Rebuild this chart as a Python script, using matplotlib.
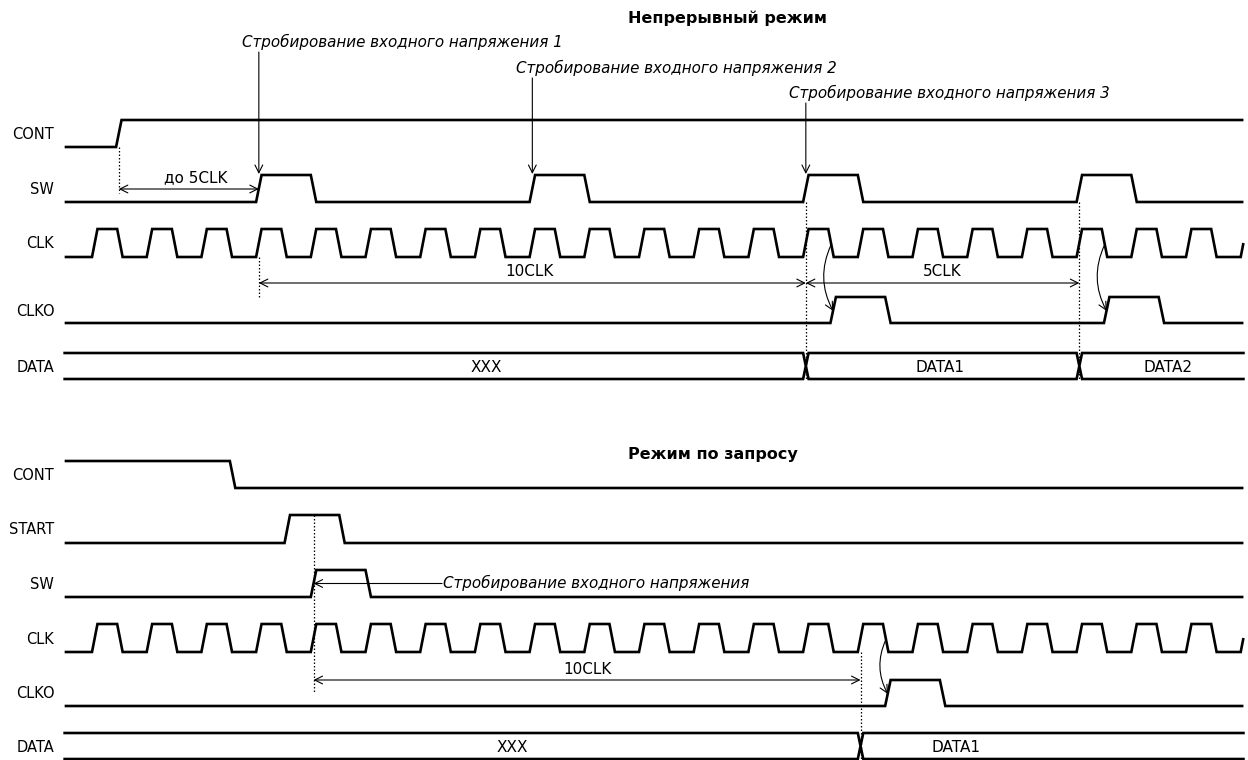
import matplotlib
matplotlib.use("Agg")
import numpy as np
import matplotlib.pyplot as plt
from matplotlib.patches import FancyArrowPatch

# ---------------- data (time in CLK periods, t=0 at first CLK rising edge) ----
T_BEGIN = -0.5
T_END = 21.05

CLK_RISES = [0, 1, 2, 3, 4, 5, 6, 7, 8, 9, 10, 11, 12, 13, 14, 15, 16, 17,
             18, 19, 20, 21]
CLK_HIGH = 0.46

TOP_TITLE = "Непрерывный режим"
TOP_SIGNALS = ["CONT", "SW", "CLK", "CLKO", "DATA"]
TOP_CONT_INIT = 0
TOP_CONT_EDGES = [0.44]
TOP_SW_EDGES = [3, 4, 8, 9, 13, 14, 18, 19]
TOP_CLKO_EDGES = [13.5, 14.5, 18.5, 19.5]
TOP_DATA_EDGES = [13, 18]
TOP_DATA_LABELS = ["XXX", "DATA1", "DATA2"]
TOP_DATA_LABEL_T = [7.2, 15.5, 19.67]
TOP_STROBES = [3, 8, 13]
TOP_STROBE_LABELS = ["Стробирование входного напряжения 1",
                     "Стробирование входного напряжения 2",
                     "Стробирование входного напряжения 3"]
TOP_DIMS = [("до 5CLK", 0.44, 3), ("10CLK", 3, 13), ("5CLK", 13, 18)]

BOT_TITLE = "Режим по запросу"
BOT_SIGNALS = ["CONT", "START", "SW", "CLK", "CLKO", "DATA"]
BOT_CONT_INIT = 1
BOT_CONT_EDGES = [2.52]
BOT_START_EDGES = [3.52, 4.52]
BOT_SW_EDGES = [4, 5]
BOT_CLKO_EDGES = [14.5, 15.5]
BOT_DATA_EDGES = [14]
BOT_DATA_LABELS = ["XXX", "DATA1"]
BOT_DATA_LABEL_T = [7.68, 15.8]
BOT_STROBE_LABEL = "Стробирование входного напряжения"
BOT_DIMS = [("10CLK", 4, 14)]

# ---------------- layout ----------------
PX0, PXS = 92.0, 54.7          # pixel of t=0, pixels per clock
SLOPE = 0.1
LW = 1.9
FONT = "DejaVu Sans"
FS_LABEL = 10.5
FS_TEXT = 11
FS_ITALIC = 10.9
FS_TITLE = 11.5
# rows: (high y, low y) in pixel rows
TOP_ROWS = {"CONT": (120, 147), "SW": (175, 202), "CLK": (229, 257),
            "CLKO": (297, 323), "DATA": (353, 379)}
BOT_ROWS = {"CONT": (461, 488), "START": (515, 543), "SW": (570, 597),
            "CLK": (624, 652), "CLKO": (680, 706), "DATA": (733, 759)}
TOP_DIM_Y = [189, 283, 283]
TOP_DIM_TEXT_DX = [0.13, -0.05, 0.0]

fig = plt.figure(figsize=(12.48, 7.6), dpi=100)
ax = fig.add_axes([0, 0, 1, 1])
ax.set_xlim(-PX0 / PXS, (1248 - PX0) / PXS)
ax.set_ylim(760, 0)
ax.axis("off")


def wave_xy(init, edges, row):
    hi, lo = row
    xs, ys = [T_BEGIN], [init]
    lev = init
    for e in edges:
        xs += [e, e + SLOPE]
        ys += [lev, 1 - lev]
        lev = 1 - lev
    xs.append(max(T_END, xs[-1]))
    ys.append(lev)
    xs = np.array(xs, float)
    ys = np.array(ys, float)
    keep = xs <= T_END
    xe = T_END
    ye = np.interp(xe, xs, ys)
    xs = np.append(xs[keep], xe)
    ys = np.append(ys[keep], ye)
    return xs, lo - ys * (lo - hi)


def draw_wave(init, edges, row):
    x, y = wave_xy(init, edges, row)
    ax.plot(x, y, color="black", lw=LW, solid_joinstyle="miter",
            solid_capstyle="butt")


def draw_bus(edges, labels, label_t, row):
    hi, lo = row
    mid = (hi + lo) / 2
    w = 0.05
    for level in (hi, lo):
        xs, ys = [T_BEGIN], [level]
        for e in edges:
            c = e + SLOPE / 2
            xs += [c - w, c, c + w]
            ys += [level, mid, level]
        xs.append(T_END)
        ys.append(level)
        ax.plot(xs, ys, color="black", lw=LW, solid_joinstyle="miter")
    for lab, t in zip(labels, label_t):
        ax.text(t, mid + 1, lab, ha="center", va="center", fontsize=FS_TEXT,
                family=FONT)


def dotted(t, y0, y1):
    ax.plot([t, t], [y0, y1], color="black", lw=0.9,
            linestyle=(0, (1.2, 1.6)))


def arrow(p0, p1, style="->", rad=0.0):
    ax.add_patch(FancyArrowPatch(p0, p1, arrowstyle=style, mutation_scale=14,
                                 lw=0.8, color="black", shrinkA=0, shrinkB=0,
                                 connectionstyle=f"arc3,rad={rad}"))


def labels(names, rows):
    for n in names:
        hi, lo = rows[n]
        ax.text(-0.69, (hi + lo) / 2 + 1, n, ha="right", va="center",
                fontsize=FS_LABEL, family=FONT)


clk_edges = []
for r in CLK_RISES:
    clk_edges += [r, r + CLK_HIGH]

# ---------------- top section ----------------
ax.text(9.8, 18, TOP_TITLE, ha="left", va="center", fontsize=FS_TITLE,
        fontweight="bold", family=FONT)
labels(TOP_SIGNALS, TOP_ROWS)
draw_wave(TOP_CONT_INIT, TOP_CONT_EDGES, TOP_ROWS["CONT"])
draw_wave(0, TOP_SW_EDGES, TOP_ROWS["SW"])
draw_wave(0, clk_edges, TOP_ROWS["CLK"])
draw_wave(0, TOP_CLKO_EDGES, TOP_ROWS["CLKO"])
draw_bus(TOP_DATA_EDGES, TOP_DATA_LABELS, TOP_DATA_LABEL_T, TOP_ROWS["DATA"])

strobe_y = [42, 68, 93]
for t, lab, y in zip(TOP_STROBES, TOP_STROBE_LABELS, strobe_y):
    tx = t + SLOPE / 2
    ax.text(tx - 0.3, y, lab, ha="left", va="center", fontsize=FS_ITALIC,
            style="italic", family=FONT)
    arrow((tx, y + 10), (tx, TOP_ROWS["SW"][0] - 1))

# dimension lines
hi_c, lo_c = TOP_ROWS["CONT"]
dotted(TOP_DIMS[0][1] + SLOPE / 2, lo_c, 193)
for (lab, a, b), y, dx in zip(TOP_DIMS, TOP_DIM_Y, TOP_DIM_TEXT_DX):
    arrow((a + SLOPE / 2, y), (b + SLOPE / 2, y), style="<->")
    ax.text((a + b) / 2 + SLOPE / 2 + dx, y - 11, lab, ha="center",
            va="center", fontsize=FS_TEXT, family=FONT)
dotted(3 + SLOPE / 2, TOP_ROWS["CLK"][1], 297)
for e in TOP_DATA_EDGES:
    dotted(e + SLOPE / 2, TOP_ROWS["SW"][1], TOP_ROWS["DATA"][1])
for e in TOP_CLKO_EDGES[::2]:
    hi_k, lo_k = TOP_ROWS["CLK"]
    hi_o, lo_o = TOP_ROWS["CLKO"]
    arrow((e - 0.04 + SLOPE / 2, (hi_k + lo_k) / 2 + 2),
          (e + SLOPE / 2, (hi_o + lo_o) / 2 + 1), rad=0.25)

# ---------------- bottom section ----------------
ax.text(9.8, 455, BOT_TITLE, ha="left", va="center", fontsize=FS_TITLE,
        fontweight="bold", family=FONT)
labels(BOT_SIGNALS, BOT_ROWS)
draw_wave(BOT_CONT_INIT, BOT_CONT_EDGES, BOT_ROWS["CONT"])
draw_wave(0, BOT_START_EDGES, BOT_ROWS["START"])
draw_wave(0, BOT_SW_EDGES, BOT_ROWS["SW"])
draw_wave(0, clk_edges, BOT_ROWS["CLK"])
draw_wave(0, BOT_CLKO_EDGES, BOT_ROWS["CLKO"])
draw_bus(BOT_DATA_EDGES, BOT_DATA_LABELS, BOT_DATA_LABEL_T, BOT_ROWS["DATA"])

sw_t = BOT_SW_EDGES[0] + SLOPE / 2
dotted(sw_t, BOT_ROWS["START"][0], 693)
ay = (BOT_ROWS["SW"][0] + BOT_ROWS["SW"][1]) / 2
arrow((6.4, ay), (sw_t, ay))
ax.text(6.42, ay - 1, BOT_STROBE_LABEL, ha="left", va="center",
        fontsize=FS_ITALIC, style="italic", family=FONT)
for lab, a, b in BOT_DIMS:
    arrow((a + SLOPE / 2, 680), (b + SLOPE / 2, 680), style="<->")
    ax.text((a + b) / 2 + SLOPE / 2, 669, lab, ha="center", va="center",
            fontsize=FS_TEXT, family=FONT)
dotted(BOT_DATA_EDGES[0] + SLOPE / 2, BOT_ROWS["CLK"][1], 760)
for e in BOT_CLKO_EDGES[::2]:
    hi_k, lo_k = BOT_ROWS["CLK"]
    hi_o, lo_o = BOT_ROWS["CLKO"]
    arrow((e - 0.04 + SLOPE / 2, (hi_k + lo_k) / 2 + 2),
          (e + SLOPE / 2, (hi_o + lo_o) / 2 + 1), rad=0.25)

fig.savefig("out.png", dpi=100, facecolor="white")
